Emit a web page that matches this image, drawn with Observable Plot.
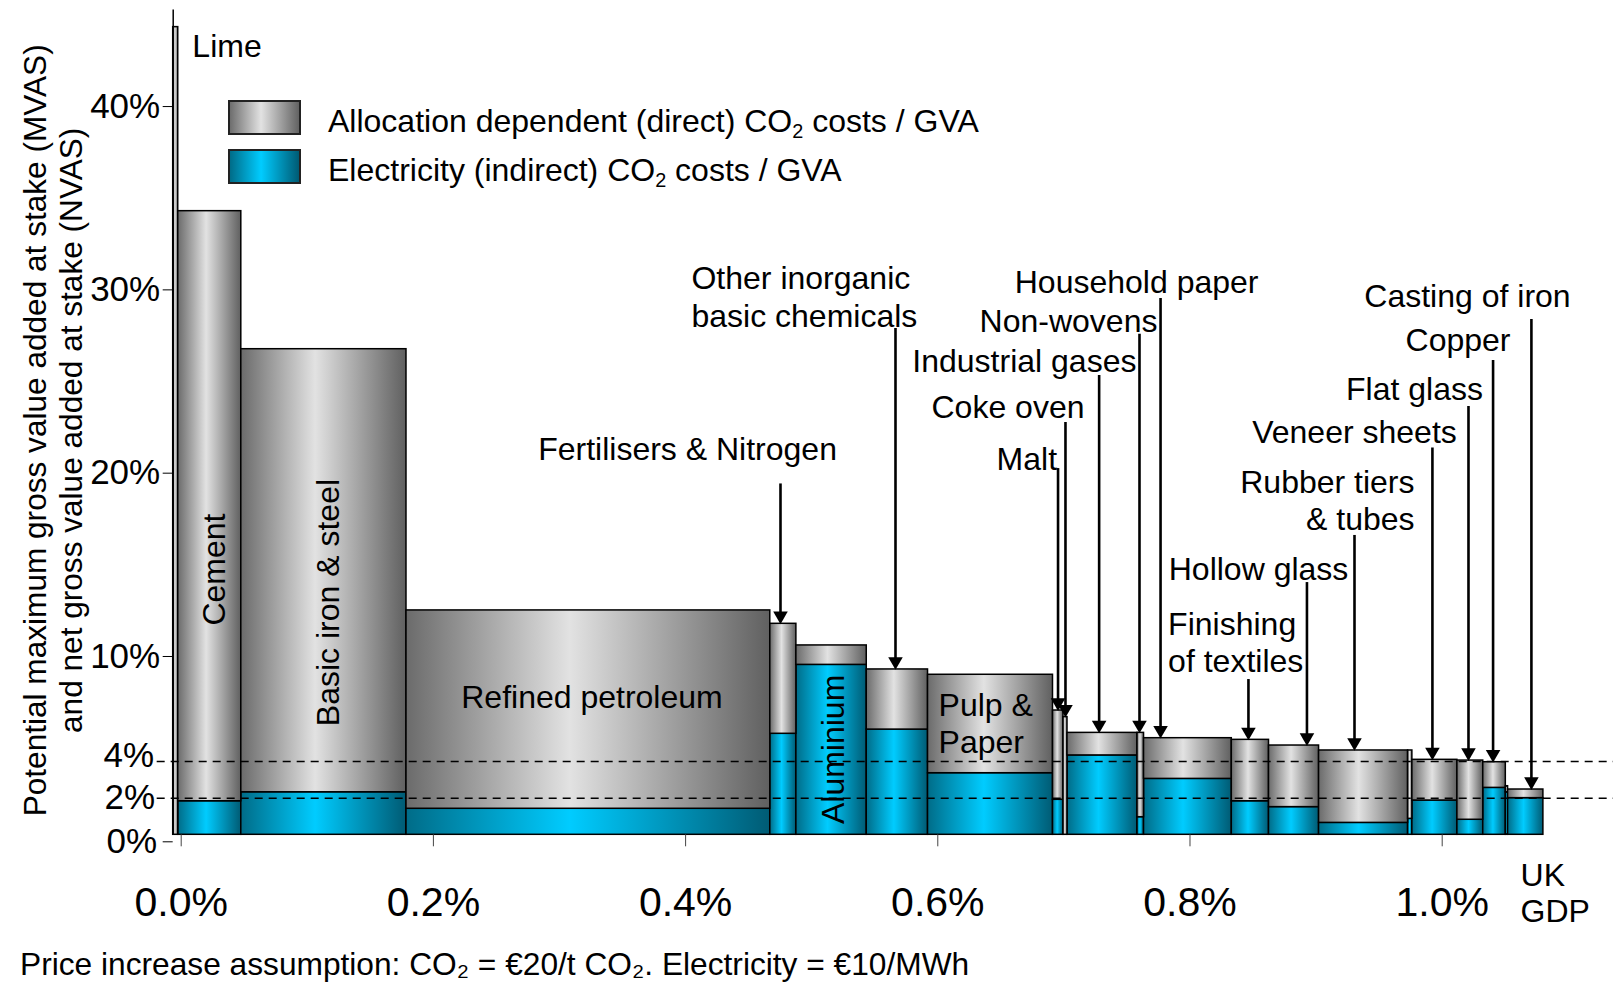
<!DOCTYPE html>
<html><head><meta charset="utf-8">
<script src="https://cdn.jsdelivr.net/npm/d3@7"></script>
<script src="https://cdn.jsdelivr.net/npm/@observablehq/plot@0.6"></script>
<style>
body{margin:0;background:#fff;font-family:Arial,"Liberation Sans",sans-serif;}
#wrap{position:relative;width:1613px;height:982px;overflow:hidden;background:#fff}
.sw{position:absolute;left:228px;width:69px;height:31px;border:2px solid #222}
.lt{position:absolute;left:328px;font-size:32px;line-height:34px;color:#000;white-space:nowrap}
.sb{font-size:0.62em;position:relative;top:0.3em;line-height:1}
.caption{position:absolute;left:20px;top:946px;font-size:31.7px;line-height:36px;white-space:nowrap}
</style></head>
<body><div id="wrap"><div id="chart"></div>
<div class="sw" style="top:100px;background:linear-gradient(90deg,#6e6e6e 0%,#e2e2e2 45%,#636363 100%)"></div>
<div class="lt" style="top:104px">Allocation dependent (direct) CO<span class="sb">2</span> costs / GVA</div>
<div class="sw" style="top:148.5px;background:linear-gradient(90deg,#006c88 0%,#00ccff 45%,#005b74 100%)"></div>
<div class="lt" style="top:153px">Electricity (indirect) CO<span class="sb">2</span> costs / GVA</div>
<div class="caption">Price increase assumption: CO₂ = €20/t CO₂. Electricity = €10/MWh</div>
</div>
<script>
// ---- data ----
const sectors = ["Lime","Cement","Basic iron & steel","Refined petroleum","Fertilisers & Nitrogen","Aluminium",
  "Other inorganic basic chemicals","Pulp & Paper","Malt","Coke oven","Industrial gases","Non-wovens",
  "Household paper","Finishing of textiles","Hollow glass","Rubber tiers & tubes","Other (small) A",
  "Veneer sheets","Flat glass","Copper","Other (small) B","Casting of iron"];
// share of UK GDP (%), i.e. bar widths
const gdpShare = [0.004,0.050,0.131,0.2885,0.0207,0.0558,0.0486,0.0991,0.0083,0.0032,0.0555,0.0052,
  0.0696,0.0295,0.0397,0.0706,0.0034,0.0357,0.0205,0.0179,0.0018,0.028];
// total CO2 cost / GVA (%)
const totalCost = [44.06,34.02,26.49,12.24,11.51,10.33,9.02,8.73,6.78,6.42,5.56,5.56,5.27,5.18,4.87,4.60,4.60,4.09,4.05,3.96,2.65,2.47];
// electricity (indirect) CO2 cost / GVA (%)
const elecCost = [0,1.83,2.32,1.42,5.51,9.27,5.74,3.36,1.91,0,4.33,0.96,3.05,1.83,1.51,0.65,0.87,1.87,0.82,2.56,2.32,2.00];
const xTicks = [0,0.2,0.4,0.6,0.8,1.0];
const yTicksMain = [10,20,30,40];
const thresholds = [2,4];
const yTitle = "Potential maximum gross value added at stake (MVAS)\nand net gross value added at stake (NVAS)";

// ---- table built from the arrays ----
const ends = Array.from(d3.cumsum(gdpShare));
const table = sectors.map((s,i)=>({sector:s, x1: ends[i]-gdpShare[i], x2: ends[i], total: totalCost[i], elec: elecCost[i]}));
const bySector = new Map(table.map(d=>[d.sector,d]));

// ---- annotations (positions in data units) ----
const plainNotes = [
  {label:"Lime", x:0.0152, y:43.06, anchor:"start"},
  {label:"Refined petroleum", x:0.3321, y:7.55, anchor:"middle"},
  {label:"Pulp &\nPaper", x:0.607, y:6.13, anchor:"start"}
];
const rotNotes = [
  {label:"Cement", x:0.0327, y:14.47},
  {label:"Basic iron & steel", x:0.1232, y:12.67},
  {label:"Aluminium", x:0.5236, y:4.66}
];
const arrowNotes = [
  {label:"Fertilisers & Nitrogen", sector:"Fertilisers & Nitrogen", x:0.4079, y:21.10, anchor:"middle", ax:0.4816, ay:19.14},
  {label:"Other inorganic\nbasic chemicals", sector:"Other inorganic basic chemicals", x:0.411, y:29.39, anchor:"start", ax:0.5728, ay:27.62},
  {label:"Malt", sector:"Malt", x:0.7009, y:20.58, anchor:"end", ax:0.7017, ay:19.98},
  {label:"Coke oven", sector:"Coke oven", x:0.662, y:23.37, anchor:"middle", ax:0.7076, ay:22.49},
  {label:"Industrial gases", sector:"Industrial gases", x:0.675, y:25.88, anchor:"middle", ax:0.7343, ay:25.06},
  {label:"Non-wovens", sector:"Non-wovens", x:0.710, y:28.06, anchor:"middle", ax:0.7663, ay:27.30},
  {label:"Household paper", sector:"Household paper", x:0.764, y:30.19, anchor:"middle", ax:0.783, ay:29.26},
  {label:"Finishing\nof textiles", sector:"Finishing of textiles", x:0.789, y:10.55, anchor:"start", ax:0.8527, ay:8.47},
  {label:"Hollow glass", sector:"Hollow glass", x:0.8607, y:14.58, anchor:"middle", ax:0.8991, ay:13.76},
  {label:"Rubber tiers\n& tubes", sector:"Rubber tiers & tubes", x:0.9844, y:18.29, anchor:"end", ax:0.9368, ay:16.33},
  {label:"Veneer sheets", sector:"Veneer sheets", x:0.9368, y:22.0, anchor:"middle", ax:0.9986, ay:21.10},
  {label:"Flat glass", sector:"Flat glass", x:0.9844, y:24.35, anchor:"middle", ax:1.0272, ay:23.37},
  {label:"Copper", sector:"Copper", x:1.0189, y:27.05, anchor:"middle", ax:1.0467, ay:25.88},
  {label:"Casting of iron", sector:"Casting of iron", x:1.0264, y:29.42, anchor:"middle", ax:1.0771, ay:28.11}
];
const allNotes = plainNotes.concat(arrowNotes);
const FONT = 32;
const noteMarks = ["start","middle","end"].map(a =>
  Plot.text(allNotes.filter(d=>d.anchor===a), {x:"x", y:"y", text:"label", textAnchor:a, fontSize:FONT, lineHeight:1.17, fill:"#000"}));

const chart = Plot.plot({
  width: 1613, height: 940,
  marginLeft: 172.7, marginRight: 0, marginTop: 9.4, marginBottom: 105.7,
  style: {fontFamily: "Arial, 'Liberation Sans', sans-serif", background: "white", color: "black", overflow: "visible"},
  x: {domain: [0, 1.1422]},
  y: {domain: [0, 45]},
  marks: [
    Plot.rect(table.filter(d=>d.elec>0), {x1:"x1", x2:"x2", y1:0, y2:"elec", fill:"url(#gBlue)", stroke:"#000", strokeWidth:1.5}),
    Plot.rect(table, {x1:"x1", x2:"x2", y1:"elec", y2:"total", fill:"url(#gGray)", stroke:"#000", strokeWidth:1.5}),
    Plot.ruleY(thresholds, {x1: -0.0127, x2: 1.1422, stroke:"#000", strokeWidth:1.5, strokeDasharray:"8,6"}),
    Plot.ruleX([0], {y1:0, y2:45, stroke:"#000", strokeWidth:1.5}),
    Plot.axisY(yTicksMain, {tickFormat:d=>d+"%", tickSize:10, tickPadding:3, dy:5, fontSize:35, label:null, stroke:"#000"}),
    Plot.axisY([4], {tickFormat:d=>d+"%", tickSize:0, tickPadding:19, dy:-6, fontSize:35, label:null}),
    Plot.axisY([2], {tickFormat:d=>d+"%", tickSize:0, tickPadding:18, dy:0, fontSize:35, label:null}),
    Plot.axisY([0], {tickFormat:d=>d+"%", tickSize:10, tickPadding:6, dy:7, fontSize:35, label:null, stroke:"#000"}),
    Plot.axisX(xTicks, {tickFormat:d=>d.toFixed(1)+"%", tickSize:12, tickPadding:40, dx:8, fontSize:41, label:null, stroke:"#444"}),
    Plot.text([yTitle], {text:d=>d, frameAnchor:"left", textAnchor:"middle", dx:-120.7, dy:8, rotate:-90, fontSize:31.6, lineHeight:1.15, fill:"#000"}),
    Plot.text(["UK\nGDP"], {text:d=>d, x:1.0685, y:-3.15, textAnchor:"start", fontSize:FONT, lineHeight:1.13, fill:"#000"}),
    Plot.text(rotNotes, {x:"x", y:"y", text:"label", rotate:-90, fontSize:FONT, fill:"#000"}),
    ...noteMarks,
    Plot.ruleX(arrowNotes, {x:"ax", y1:"ay", y2:d=>bySector.get(d.sector).total + 0.5, stroke:"#000", strokeWidth:2.6}),
    Plot.dot(arrowNotes, {x:"ax", y:d=>bySector.get(d.sector).total, symbol:"triangle", rotate:180, r:5.4, dy:-8, fill:"#000", stroke:"none"})
  ]
});
chart.insertAdjacentHTML("afterbegin", `<defs>
<linearGradient id="gGray" x1="0" x2="1" y1="0" y2="0">
<stop offset="0" stop-color="#6b6b6b"/><stop offset="0.45" stop-color="#e2e2e2"/><stop offset="1" stop-color="#606060"/></linearGradient>
<linearGradient id="gBlue" x1="0" x2="1" y1="0" y2="0">
<stop offset="0" stop-color="#006c88"/><stop offset="0.45" stop-color="#00ccff"/><stop offset="1" stop-color="#005b74"/></linearGradient></defs>`);
document.getElementById("chart").appendChild(chart);
</script>
</body></html>
